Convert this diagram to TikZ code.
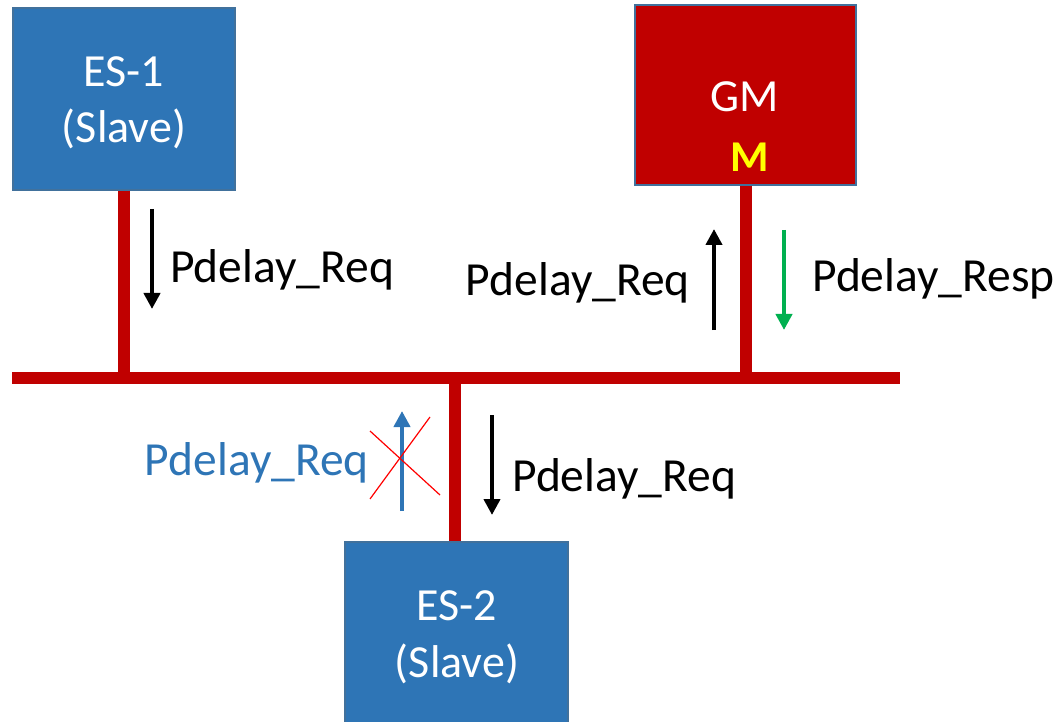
\documentclass[tikz,border=0pt]{standalone}
\usepackage{fontspec}
\setmainfont{Carlito}
\usetikzlibrary{arrows.meta}
\definecolor{boxblue}{HTML}{2E75B6}
\definecolor{edgeblue}{HTML}{41719C}
\definecolor{busred}{HTML}{C00000}
\definecolor{respgreen}{HTML}{00B050}
\definecolor{myyellow}{HTML}{FFFF00}
\definecolor{xred}{HTML}{FF0000}
\tikzset{
  esbox/.style={draw=edgeblue, line width=1.5pt, fill=boxblue, rectangle, inner sep=0pt},
  gmbox/.style={draw=edgeblue, line width=2pt, fill=busred, rectangle, inner sep=0pt},
  boxtext/.style={text=white, anchor=base, inner sep=0pt, font=\fontsize{46}{56}\selectfont},
  lbl/.style={anchor=base west, inner sep=0pt, font=\fontsize{47.5}{56}\selectfont},
  lblr/.style={anchor=base east, inner sep=0pt, font=\fontsize{47.5}{56}\selectfont},
  wire/.style={busred, line width=12.5pt},
  msg/.style={line width=4.5pt, -{Triangle[width=16pt,length=16pt]}},
  crossline/.style={xred, line width=1.2pt},
}
\begin{document}
\begin{tikzpicture}[x=1pt,y=-1pt]
\useasboundingbox (0,0) rectangle (1061,722);
% boxes
\node[esbox, minimum width=222pt, minimum height=182pt] (es1) at (124,99) {};
\node[gmbox, minimum width=221pt, minimum height=180pt] (gm) at (745.5,95) {};
\node[esbox, minimum width=223pt, minimum height=200pt] (es2) at (456.5,642) {};
% box texts
\node[boxtext] (es1t1) at (124,87) {ES-1};
\node[boxtext] (es1t2) at (124,143) {(Slave)};
\node[boxtext] (gmt1) at (745,112) {GM};
\node[boxtext, text=myyellow, font=\fontsize{44}{52}\selectfont\bfseries] (gmt2) at (750,172) {M};
\node[boxtext] (es2t1) at (457,620) {ES-2};
\node[boxtext] (es2t2) at (457,677) {(Slave)};
% bus
\coordinate (busL) at (12,378);
\coordinate (busR) at (900,378);
\coordinate (j1) at (124,378);
\coordinate (j2) at (746,378);
\coordinate (j3) at (455,378);
\draw[wire] (busL) -- (busR);
\draw[wire] (es1.south -| j1) -- ([yshift=-6pt]j1);
\draw[wire] (gm.south -| j2) -- ([yshift=-6pt]j2);
\draw[wire] ([yshift=6pt]j3) -- (es2.north -| j3);
% ES-1 message
\coordinate (m1s) at (152,209);
\coordinate (m1e) at (152,309);
\draw[msg, black] (m1s) -- (m1e);
\node[lbl] (m1l) at (170,283) {Pdelay\_Req};
% GM side messages
\coordinate (m2s) at (714,330);
\coordinate (m2e) at (714,229);
\draw[msg, black] (m2s) -- (m2e);
\node[lblr] (m2l) at (690,295) {Pdelay\_Req};
\coordinate (m3s) at (784,230);
\coordinate (m3e) at (784,330);
\draw[msg, respgreen] (m3s) -- (m3e);
\node[lbl] (m3l) at (812,292) {Pdelay\_Resp};
% ES-2 messages
\coordinate (m4s) at (402,511);
\coordinate (m4e) at (402,411);
\draw[msg, boxblue] (m4s) -- (m4e);
\node[lblr, text=boxblue] (m4l) at (369,475) {Pdelay\_Req};
\coordinate (x1a) at (370,431);
\coordinate (x1b) at (440,495);
\coordinate (x2a) at (370,499);
\coordinate (x2b) at (430,417);
\draw[crossline] (x1a) -- (x1b);
\draw[crossline] (x2a) -- (x2b);
\coordinate (m5s) at (492,415);
\coordinate (m5e) at (492,515);
\draw[msg, black] (m5s) -- (m5e);
\node[lbl] (m5l) at (512,491) {Pdelay\_Req};
\end{tikzpicture}
\end{document}
